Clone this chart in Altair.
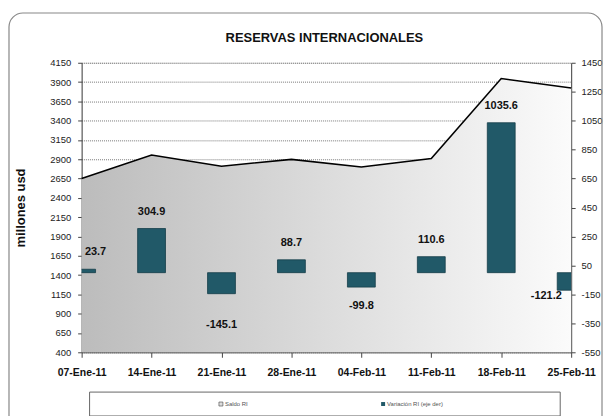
import altair as alt
import pandas as pd

fechas = ["07-Ene-11", "14-Ene-11", "21-Ene-11", "28-Ene-11",
          "04-Feb-11", "11-Feb-11", "18-Feb-11", "25-Feb-11"]
saldo = [2650, 2955, 2810, 2899, 2799, 2910, 3945, 3824]
variacion = [23.7, 304.9, -145.1, 88.7, -99.8, 110.6, 1035.6, -121.2]

left_ticks = list(range(400, 4151, 250))
right_ticks = list(range(-550, 1451, 200))

df = pd.DataFrame({
    "fecha": fechas,
    "saldo": saldo,
    "var": variacion,
    "idx": list(range(len(fechas))),
})
df["lbl"] = df["var"].map(lambda v: f"{v:.1f}")

FONT = "'Liberation Sans Narrow', 'Arial Narrow', 'Liberation Sans', Arial"
W, H = 492, 291
BAR = "#215968"

xaxis = alt.Axis(title=None, labelAngle=0, labelFont=FONT, labelFontSize=10.5,
                 labelFontWeight="bold", labelColor="#111", tickSize=5,
                 labelPadding=10, domainColor="#444", tickColor="#444",
                 labelOverlap=False, labelFlush=False, grid=False)
xscale = alt.Scale(type="point", padding=0)
xenc = alt.X("fecha:N", sort=fechas, scale=xscale, axis=xaxis)

yleft_scale = alt.Scale(domain=[400, 4150], zero=False, nice=False)
yleft_axis = alt.Axis(values=left_ticks, labelExpr="'' + datum.value", title="millones usd",
                      titleFont="Liberation Sans", titleFontSize=13, titleFontWeight="bold",
                      titleColor="#111", titlePadding=22, labelFont=FONT, labelFontSize=9.5,
                      labelColor="#222", tickSize=4, labelPadding=7, domainColor="#444",
                      tickColor="#444", labelOverlap=False, labelFlush=False,
                      grid=True, gridColor="#777", gridDash=[1, 1], gridWidth=1)
yleft = alt.Y("saldo:Q", scale=yleft_scale, axis=yleft_axis)

gradient = alt.LinearGradient(
    gradient="linear",
    stops=[alt.GradientStop(color="#bcbcbc", offset=0),
           alt.GradientStop(color="#dcdcdc", offset=0.5),
           alt.GradientStop(color="#fbfbfb", offset=1)],
    x1=0, x2=1, y1=0, y2=0)

base = alt.Chart(df)

area = base.mark_area(color=gradient, opacity=1).encode(
    x=xenc, y=yleft, y2=alt.datum(400))
line = base.mark_line(color="#000", strokeWidth=1.6).encode(x=xenc, y=yleft)

left_layer = alt.layer(area, line)

yright_scale = alt.Scale(domain=[-550, 1450], zero=False, nice=False)
yright_axis = alt.Axis(orient="right", values=right_ticks, labelExpr="'' + datum.value",
                       title=None, labelFont=FONT, labelFontSize=9.5, labelColor="#222",
                       tickSize=4, labelPadding=6, domainColor="#444", tickColor="#444",
                       labelOverlap=False, labelFlush=False, grid=False)
yright = alt.Y("var:Q", scale=yright_scale, axis=yright_axis)

bars = base.mark_bar(color=BAR, stroke="#163e49", strokeWidth=0.8, size=28, clip=True).encode(
    x=xenc, y=yright, y2=alt.datum(0))

def lbl(filter_expr, dx, dy):
    return base.mark_text(font=FONT, fontSize=11, fontWeight="bold", color="#111",
                          dx=dx, dy=dy, baseline="middle").encode(
        x=xenc, y=yright, text="lbl:N",
    ).transform_filter(filter_expr)

labels = [
    lbl("datum.idx == 0", 14, -17),
    lbl("datum.idx > 0 && datum.idx < 7 && datum.var > 0", 0, -17),
    lbl("datum.idx == 2", 0, 32),
    lbl("datum.idx == 4", 0, 19),
    lbl("datum.idx == 7", -25, 6),
]

right_layer = alt.layer(bars, *labels)

# decorations: title, rounded border and legend box
deco_df = pd.DataFrame({"k": [0]})
title = alt.Chart(deco_df).mark_text(text="RESERVAS INTERNACIONALES", font="Liberation Sans",
                                     fontSize=13, fontWeight="bold", color="#111",
                                     align="center", baseline="middle").encode(
    x=alt.value(244), y=alt.value(-25))
border = alt.Chart(deco_df).mark_rect(fill=None, stroke="#888", strokeWidth=1.2,
                                      cornerRadius=14, clip=False).encode(
    x=alt.value(-73), x2=alt.value(523), y=alt.value(-50), y2=alt.value(370))
legend_box = alt.Chart(deco_df).mark_rect(fill="white", stroke="#666", strokeWidth=1,
                                          clip=False).encode(
    x=alt.value(8), x2=alt.value(481), y=alt.value(331), y2=alt.value(355))
sym1 = alt.Chart(deco_df).mark_square(size=16, fill="#ddd", stroke="#444", strokeWidth=0.6,
                                      opacity=1).encode(x=alt.value(140), y=alt.value(343))
sym2 = alt.Chart(deco_df).mark_square(size=16, fill=BAR, opacity=1).encode(
    x=alt.value(303), y=alt.value(343))
t1 = alt.Chart(deco_df).mark_text(text="Saldo RI", font="Liberation Sans", fontSize=6,
                                  color="#555", align="left", baseline="middle").encode(
    x=alt.value(144), y=alt.value(343))
t2 = alt.Chart(deco_df).mark_text(text="Variación RI (eje der)", font="Liberation Sans",
                                  fontSize=6, color="#555", align="left",
                                  baseline="middle").encode(
    x=alt.value(307), y=alt.value(343))

main = alt.layer(left_layer, right_layer).resolve_scale(y="independent")

chart = alt.layer(main, title, border, legend_box, sym1, sym2, t1, t2).properties(
    width=W, height=H,
    autosize=alt.AutoSizeParams(type="none"),
    padding={"left": 74, "top": 54, "right": 32, "bottom": 63},
).configure_view(stroke=None).configure(background="white")

chart.save("out.html", embed_options={"renderer": "svg", "actions": False})
